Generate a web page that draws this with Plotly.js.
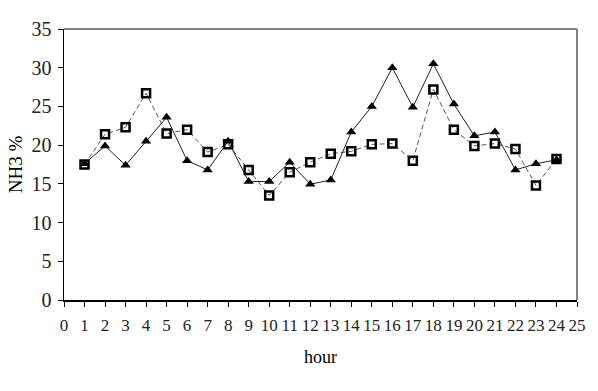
<!DOCTYPE html>
<html><head><meta charset="utf-8">
<script src="https://cdn.plot.ly/plotly-3.0.1.min.js"></script>
<style>html,body{margin:0;padding:0;background:#fff}#c{width:598px;height:391px}</style>
</head><body><div id="c"></div>
<script>
var hours = [1,2,3,4,5,6,7,8,9,10,11,12,13,14,15,16,17,18,19,20,21,22,23,24];
var seriesTriangle = [17.6,19.9,17.4,20.5,23.6,18.0,16.8,20.5,15.3,15.3,17.8,14.95,15.5,21.7,25.0,30.0,24.9,30.5,25.3,21.2,21.7,16.8,17.6,18.1];
var seriesSquare = [17.5,21.4,22.3,26.7,21.5,22.0,19.1,20.1,16.8,13.5,16.5,17.8,18.9,19.2,20.1,20.2,18.0,27.2,22.0,19.9,20.2,19.5,14.8,18.2];
var xTicks = [0,1,2,3,4,5,6,7,8,9,10,11,12,13,14,15,16,17,18,19,20,21,22,23,24,25];
var yTicks = [0,5,10,15,20,25,30,35];

var font = 'Liberation Serif, Times New Roman, serif';
var traces = [
  {x: hours, y: seriesSquare, type: 'scatter', mode: 'lines+markers',
   line: {color: '#555', width: 1, dash: '5px,3px'},
   marker: {symbol: 'square-open', size: 8, color: '#000', line: {width: 2.5, color: '#000'}}},
  {x: hours, y: seriesTriangle, type: 'scatter', mode: 'lines+markers',
   line: {color: '#222', width: 1},
   marker: {symbol: 'triangle-up', size: 9, color: '#000'}}
];
var layout = {
  width: 598, height: 391,
  margin: {l: 63.5, r: 20.5, t: 29, b: 91},
  paper_bgcolor: '#fff', plot_bgcolor: '#fff',
  showlegend: false,
  font: {family: font, color: '#000'},
  xaxis: {range: [0, 25], tickvals: xTicks, ticktext: xTicks.map(String),
    showgrid: false, zeroline: false, showline: true, linecolor: '#000', linewidth: 1.5,
    ticks: 'outside', ticklen: 5, tickcolor: '#000', tickwidth: 1, ticklabelstandoff: 4,
    tickfont: {family: font, size: 17, color: '#222'},
    title: {text: 'hour', font: {family: font, size: 18, color: '#000'}, standoff: 16}},
  yaxis: {range: [0, 35], tickvals: yTicks, ticktext: yTicks.map(String),
    showgrid: false, zeroline: false, showline: true, linecolor: '#000', linewidth: 1.5,
    ticks: 'outside', ticklen: 5, tickcolor: '#000', tickwidth: 1, ticklabelstandoff: 2,
    tickfont: {family: font, size: 20, color: '#222'},
    title: {text: 'NH3 %', font: {family: font, size: 19, color: '#000'}, standoff: 4}},
  shapes: [
    {type: 'line', xref: 'paper', yref: 'paper', x0: 0, x1: 1, y0: 1, y1: 1, line: {color: '#808080', width: 2}},
    {type: 'line', xref: 'paper', yref: 'paper', x0: 1, x1: 1, y0: 0, y1: 1, line: {color: '#808080', width: 2}}
  ]
};
Plotly.newPlot('c', traces, layout, {displayModeBar: false, staticPlot: true});
</script></body></html>
